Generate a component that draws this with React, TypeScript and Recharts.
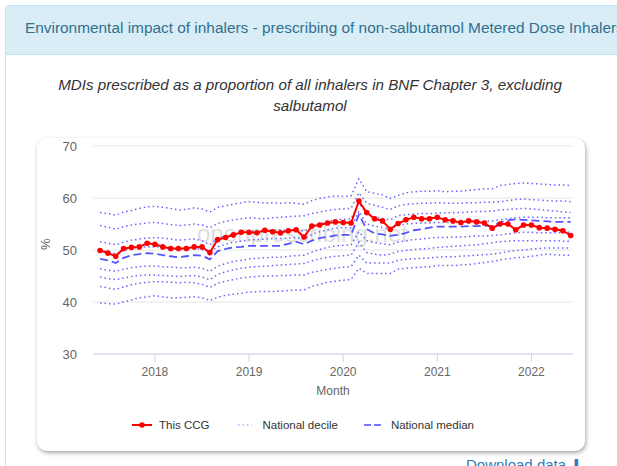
import { CartesianGrid, Line, LineChart, XAxis, YAxis, Label } from "recharts";

// monthly points, June 2017 .. June 2022
const firstYear = 2017;
const firstMonth = 6;
const yearTicks = ["2018", "2019", "2020", "2021", "2022"];

const ccg = [
	49.9, 49.4, 48.8, 50.3, 50.5, 50.6, 51.3, 51.1, 50.6, 50.3, 50.3, 50.3, 50.6, 50.6, 49.5,
	52.0, 52.4, 52.9, 53.4, 53.4, 53.3, 53.8, 53.5, 53.3, 53.7, 53.9, 52.5, 54.6, 54.8, 55.2, 55.4, 55.3, 55.2,
	59.4, 57.2, 56.0, 55.6, 54.0, 55.1, 55.8, 56.3, 56.0, 56.0, 56.3, 55.8, 55.6, 55.3, 55.6, 55.4, 55.2, 54.2,
	55.0, 55.0, 53.9, 54.8, 54.8, 54.3, 54.2, 54.0, 53.7, 52.8,
];

const median = [
	48.3, 48.0, 47.5, 48.5, 49.0, 49.2, 49.4, 49.3, 49.0, 48.8, 48.6, 48.8, 49.0, 48.9, 48.2,
	49.8, 50.2, 50.5, 50.6, 50.8, 50.8, 50.8, 50.8, 50.8, 51.2, 51.6, 51.1, 51.8, 52.3, 52.5, 52.8, 52.9, 52.9,
	56.8, 54.0, 53.2, 53.0, 52.7, 52.9, 53.3, 53.8, 54.0, 54.3, 54.5, 54.5, 54.5, 54.5, 54.6, 54.6, 54.7, 54.6,
	55.3, 55.7, 55.9, 55.8, 55.7, 55.6, 55.5, 55.4, 55.4, 55.4,
];

const d90 = [
	57.2, 57.0, 56.7, 57.3, 57.6, 58.0, 58.3, 58.4, 58.2, 58.0, 57.7, 57.8, 58.1, 57.9, 57.3,
	58.2, 58.5, 58.8, 59.1, 59.3, 59.2, 59.0, 59.1, 59.0, 59.1, 59.0, 58.8, 59.5, 59.9, 60.2, 60.4, 60.3, 60.4,
	63.7, 61.2, 60.9, 60.6, 59.9, 60.5, 61.0, 61.2, 61.3, 61.3, 61.4, 61.2, 61.3, 61.3, 61.5, 61.6, 61.8, 61.8,
	62.4, 62.6, 62.8, 62.9, 62.8, 62.7, 62.6, 62.5, 62.5, 62.4,
];
const d80 = [
	54.7, 54.4, 54.0, 54.5, 54.8, 55.0, 55.2, 55.3, 55.1, 54.9, 54.7, 54.8, 55.0, 54.8, 54.3,
	55.1, 55.5, 55.8, 56.0, 56.2, 56.1, 56.0, 56.2, 56.3, 56.4, 56.5, 56.6, 57.0, 57.3, 57.6, 57.8, 57.9, 58.0,
	61.0, 59.0, 58.6, 58.2, 57.8, 58.5, 58.8, 58.9, 59.0, 59.0, 59.1, 59.0, 59.0, 59.0, 59.1, 59.1, 59.2, 59.2,
	59.3, 59.5, 59.7, 59.8, 59.7, 59.6, 59.5, 59.4, 59.4, 59.3,
];
const d70 = [
	51.6, 51.3, 51.0, 51.5, 51.9, 52.1, 52.3, 52.4, 52.3, 52.1, 51.9, 52.0, 52.1, 51.8, 51.0,
	52.2, 52.7, 53.0, 53.3, 53.6, 53.6, 53.7, 53.8, 53.8, 53.9, 53.9, 53.6, 54.5, 55.0, 55.5, 55.8, 55.9, 56.0,
	59.0, 57.0, 56.4, 56.0, 55.8, 56.6, 56.8, 56.9, 57.0, 57.0, 57.1, 57.1, 57.2, 57.2, 57.3, 57.4, 57.4, 57.5,
	57.7, 57.8, 57.9, 58.0, 57.9, 57.8, 57.6, 57.5, 57.3, 57.2,
];
const d60 = [
	50.0, 49.7, 49.3, 49.9, 50.3, 50.5, 50.6, 50.6, 50.5, 50.3, 50.1, 50.2, 50.3, 50.1, 49.6,
	50.6, 51.1, 51.5, 51.7, 51.9, 52.0, 52.1, 52.2, 52.2, 52.3, 52.4, 52.1, 53.0, 53.5, 53.9, 54.2, 54.3, 54.3,
	57.5, 55.0, 54.6, 54.3, 54.0, 54.8, 55.0, 55.1, 55.2, 55.2, 55.3, 55.3, 55.3, 55.3, 55.4, 55.5, 55.5, 55.6,
	55.8, 56.0, 56.2, 56.3, 56.3, 56.3, 56.2, 56.2, 56.2, 56.2,
];
const d40 = [
	46.4, 46.1, 45.9, 46.3, 46.6, 46.8, 46.9, 46.9, 46.8, 46.7, 46.6, 46.6, 46.7, 46.5, 45.9,
	46.9, 47.4, 47.8, 48.0, 48.3, 48.4, 48.5, 48.6, 48.6, 48.8, 48.9, 49.0, 49.6, 50.1, 50.5, 50.8, 50.9, 51.0,
	53.5, 51.8, 51.4, 51.2, 51.0, 51.5, 51.8, 52.0, 52.1, 52.3, 52.4, 52.4, 52.5, 52.5, 52.6, 52.7, 52.7, 52.8,
	52.9, 53.1, 53.3, 53.4, 53.4, 53.3, 53.3, 53.3, 53.4, 53.4,
];
const d30 = [
	44.8, 44.5, 44.3, 44.6, 44.9, 45.1, 45.2, 45.2, 45.1, 45.0, 44.9, 45.0, 45.1, 44.8, 44.3,
	45.3, 45.8, 46.2, 46.5, 46.7, 46.8, 46.9, 47.0, 47.1, 47.2, 47.3, 47.4, 47.9, 48.3, 48.6, 48.8, 48.9, 49.0,
	51.5, 49.5, 49.2, 49.0, 49.2, 49.7, 49.9, 50.1, 50.2, 50.3, 50.5, 50.6, 50.7, 50.8, 50.9, 51.0, 51.2, 51.4,
	51.6, 51.7, 51.8, 51.8, 51.8, 51.8, 51.8, 51.8, 51.7, 51.7,
];
const d20 = [
	43.0, 42.7, 42.4, 42.9, 43.3, 43.6, 43.8, 43.9, 43.9, 43.8, 43.7, 43.8, 43.7, 43.4, 42.8,
	43.6, 44.0, 44.3, 44.6, 44.8, 44.9, 45.0, 45.0, 45.1, 45.1, 45.2, 45.2, 45.7, 46.0, 46.3, 46.5, 46.7, 46.8,
	49.0, 47.5, 47.5, 47.5, 47.5, 48.0, 48.2, 48.3, 48.4, 48.5, 48.6, 48.7, 48.7, 48.8, 48.9, 49.0, 49.1, 49.2,
	49.4, 49.7, 49.9, 50.0, 50.2, 50.3, 50.4, 50.4, 50.4, 50.4,
];
const d10 = [
	39.8, 39.7, 39.6, 40.0, 40.4, 40.8, 41.0, 41.2, 41.0, 40.8, 40.8, 40.9, 41.0, 40.8, 40.3,
	40.9, 41.3, 41.5, 41.7, 41.9, 42.0, 42.0, 42.0, 42.1, 42.2, 42.3, 42.3, 43.0, 43.4, 43.8, 44.0, 44.2, 44.3,
	46.5, 45.5, 45.5, 45.5, 45.5, 46.3, 46.5, 46.6, 46.7, 46.8, 47.0, 47.0, 47.0, 47.1, 47.2, 47.4, 47.6, 47.8,
	48.1, 48.3, 48.5, 48.6, 48.8, 49.0, 49.2, 49.1, 49.0, 49.0,
];

const deciles = { d10, d20, d30, d40, d60, d70, d80, d90 };

const rows = ccg.map((v, i) => {
	const row: Record<string, number> = { i, ccg: v, median: median[i] };
	for (const [k, arr] of Object.entries(deciles)) row[k] = arr[i];
	return row;
});

const tickIdx = yearTicks.map((y) => (Number(y) - firstYear) * 12 + 1 - firstMonth);

const font = "'Liberation Sans', Arial, sans-serif";
const decileColor = "#6666ff";

export default function App() {
	return (
		<div style={{ position: "absolute", left: 0, top: 0, width: 617, height: 466, overflow: "hidden", background: "#fff", fontFamily: font }}>
			{/* panel */}
			<div style={{ position: "absolute", left: 5, top: 5, width: 640, height: 480, border: "1px solid #bce8f1", borderRadius: 4 }} />
			<div style={{ position: "absolute", left: 6, top: 6, width: 640, height: 48, background: "#d9edf7", borderBottom: "1px solid #bce8f1", borderTopLeftRadius: 3 }} />
			<div style={{ position: "absolute", left: 25, top: 19, whiteSpace: "nowrap", fontSize: 15.4, color: "#31708f" }}>
				Environmental impact of inhalers - prescribing of non-salbutamol Metered Dose Inhalers
			</div>
			{/* subtitle */}
			<div style={{ position: "absolute", left: 20, top: 74, width: 580, textAlign: "center", fontSize: 15.2, fontStyle: "italic", color: "#333", lineHeight: "21px" }}>
				MDIs prescribed as a proportion of all inhalers in BNF Chapter 3, excluding salbutamol
			</div>
			{/* chart card */}
			<div style={{ position: "absolute", left: 37, top: 138, width: 548, height: 313, borderRadius: 10, background: "#fff", boxShadow: "1px 2px 4px rgba(0,0,0,0.35)" }}>
				<div style={{ position: "absolute", left: 160, top: 82, fontSize: 24, color: "#000", opacity: 0.13, whiteSpace: "nowrap" }}>
					openprescribing.net
				</div>
				<div style={{ position: "absolute", left: 0, top: 0 }}>
					<LineChart width={548} height={262} data={rows} margin={{ top: 8, right: 12, left: 4, bottom: 0 }}>
						<CartesianGrid vertical={false} stroke="#e6e6e6" />
						<XAxis
							dataKey="i"
							type="number"
							domain={[-0.9, 60.3]}
							ticks={tickIdx}
							tickFormatter={(v) => yearTicks[tickIdx.indexOf(v)]}
							height={46}
							stroke="#ccd6eb"
							tickSize={8}
							tickMargin={5}
							tick={{ fill: "#666", fontSize: 12, fontFamily: font }}
						>
							<Label value="Month" position="insideBottom" offset={5} style={{ fill: "#666", fontSize: 12, fontFamily: font }} />
						</XAxis>
						<YAxis
							domain={[30, 70]}
							ticks={[30, 40, 50, 60, 70]}
							width={52}
							axisLine={false}
							tickLine={false}
							tickSize={0}
							tickMargin={16}
							tick={{ fill: "#666", fontSize: 13, fontFamily: font }}
						>
							<Label value="%" angle={-90} position="insideLeft" offset={4} style={{ fill: "#666", fontSize: 13, fontFamily: font }} />
						</YAxis>
						{Object.keys(deciles).map((k) => (
							<Line
								key={k}
								dataKey={k}
								type="linear"
								stroke={decileColor}
								strokeWidth={1.5}
								strokeDasharray="1.5 3"
								dot={false}
								isAnimationActive={false}
							/>
						))}
						<Line dataKey="median" type="linear" stroke="#5555ff" strokeWidth={1.8} strokeDasharray="8 4" dot={false} isAnimationActive={false} />
						<Line dataKey="ccg" type="linear" stroke="#ff0000" strokeWidth={2} dot={{ r: 2.8, fill: "#ff0000", stroke: "#ff0000", strokeWidth: 0 }} isAnimationActive={false} />
					</LineChart>
				</div>
				{/* legend */}
				<div style={{ position: "absolute", left: -8, top: 281, width: 548, display: "flex", justifyContent: "center", fontSize: 11.5, color: "#333" }}>
					<div style={{ display: "flex", alignItems: "center", marginRight: 26 }}>
						<svg width={20} height={10} style={{ marginRight: 7 }}>
							<line x1={0} y1={5} x2={20} y2={5} stroke="#ff0000" strokeWidth={2} />
							<circle cx={10} cy={5} r={2.8} fill="#ff0000" />
						</svg>
						This CCG
					</div>
					<div style={{ display: "flex", alignItems: "center", marginRight: 26 }}>
						<svg width={20} height={10} style={{ marginRight: 7 }}>
							<line x1={3} y1={5} x2={17} y2={5} stroke="#aaaaff" strokeWidth={1.5} strokeDasharray="1.5 3" />
						</svg>
						National decile
					</div>
					<div style={{ display: "flex", alignItems: "center" }}>
						<svg width={20} height={10} style={{ marginRight: 7 }}>
							<line x1={0} y1={5} x2={20} y2={5} stroke="#7777ff" strokeWidth={2} strokeDasharray="7 3" />
						</svg>
						National median
					</div>
				</div>
			</div>
			<div style={{ position: "absolute", left: 466, top: 456, fontSize: 15, color: "#337ab7", whiteSpace: "nowrap" }}>
				Download data ⬇
			</div>
		</div>
	);
}
